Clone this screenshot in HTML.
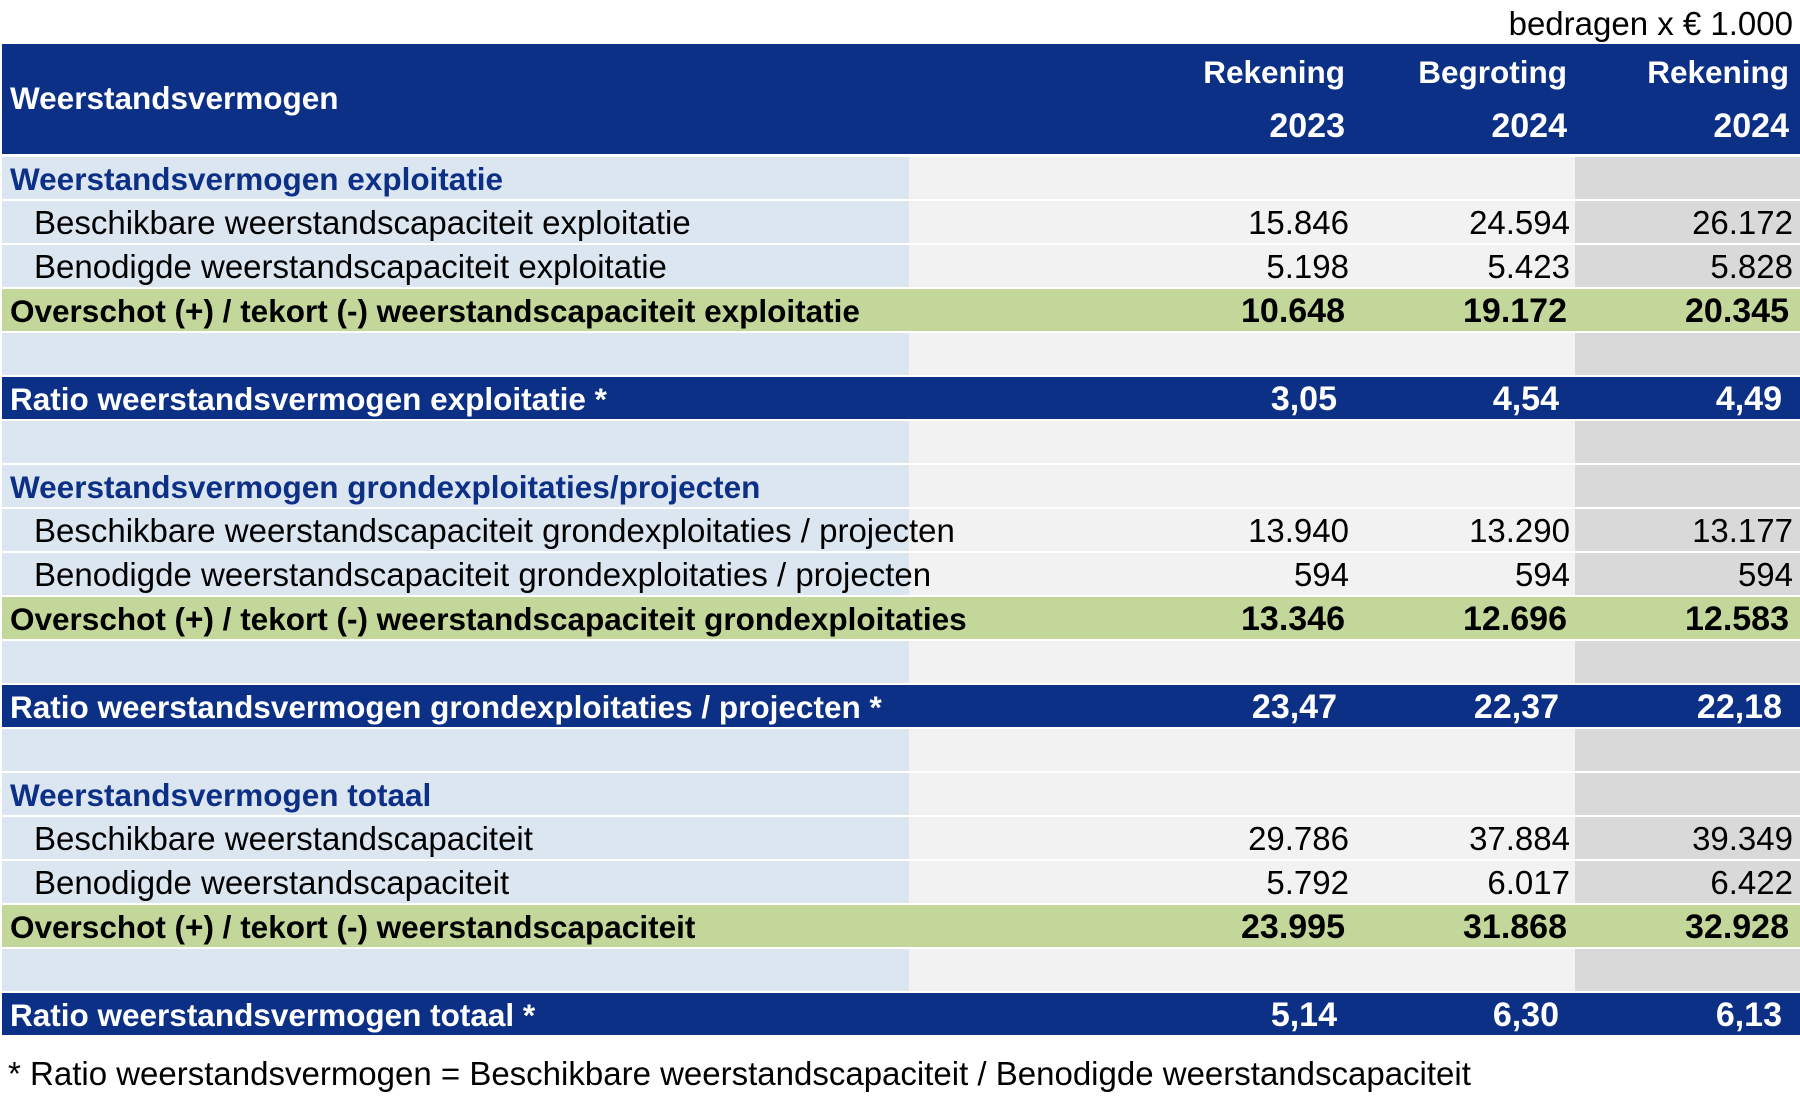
<!DOCTYPE html>
<html><head><meta charset="utf-8"><style>
body{margin:0;width:1800px;height:1110px;background:#fff;position:relative;overflow:hidden;font-family:"Liberation Sans",Arial,sans-serif;font-size:33px;color:#000}
.r{position:absolute;left:2px;width:1798px;height:42px;line-height:44px}
.r>div{position:absolute;top:0;height:42px}
.a{left:0;width:907px;background:#dce6f1}
.b{left:907px;width:666px;background:#f2f2f2}
.c{left:1573px;width:225px;background:#d9d9d9}
.t{position:absolute;white-space:nowrap}
.n{position:absolute;text-align:right;width:200px}
.blue{background:#0d3087;color:#fff;font-weight:bold;font-size:31.5px}
.green{background:#c4d79b;font-weight:bold;font-size:31.5px}
.blue .n,.green .n{font-size:34px}
.sec{color:#0d3087;font-weight:bold;font-size:31.5px}
</style></head><body>
<div class="t" style="right:7px;top:4px;line-height:40px">bedragen x € 1.000</div>
<div style="position:absolute;left:2px;top:44px;width:1798px;height:110px;background:#0d3087;color:#fff;font-weight:bold;font-size:31.5px">
<div class="t" style="left:8px;top:34px;line-height:40px">Weerstandsvermogen</div>
<div class="n" style="left:1143px;top:8px;line-height:40px">Rekening</div>
<div class="n" style="left:1365px;top:8px;line-height:40px">Begroting</div>
<div class="n" style="left:1587px;top:8px;line-height:40px">Rekening</div>
<div class="n" style="left:1143px;top:62px;line-height:40px;font-size:34px">2023</div>
<div class="n" style="left:1365px;top:62px;line-height:40px;font-size:34px">2024</div>
<div class="n" style="left:1587px;top:62px;line-height:40px;font-size:34px">2024</div>
</div>

<div class="r" style="top:157px"><div class="a"></div><div class="b"></div><div class="c"></div><span class="t sec" style="left:8px">Weerstandsvermogen exploitatie</span></div>
<div class="r" style="top:201px"><div class="a"></div><div class="b"></div><div class="c"></div><span class="t" style="left:32px">Beschikbare weerstandscapaciteit exploitatie</span><span class="n" style="left:1147px">15.846</span><span class="n" style="left:1368px">24.594</span><span class="n" style="left:1591px">26.172</span></div>
<div class="r" style="top:245px"><div class="a"></div><div class="b"></div><div class="c"></div><span class="t" style="left:32px">Benodigde weerstandscapaciteit exploitatie</span><span class="n" style="left:1147px">5.198</span><span class="n" style="left:1368px">5.423</span><span class="n" style="left:1591px">5.828</span></div>
<div class="r green" style="top:289px"><span class="t" style="left:8px">Overschot (+) / tekort (-) weerstandscapaciteit exploitatie</span><span class="n" style="left:1143px">10.648</span><span class="n" style="left:1365px">19.172</span><span class="n" style="left:1587px">20.345</span></div>
<div class="r" style="top:333px"><div class="a"></div><div class="b"></div><div class="c"></div></div>
<div class="r blue" style="top:377px"><span class="t" style="left:8px">Ratio weerstandsvermogen exploitatie *</span><span class="n" style="left:1135px">3,05</span><span class="n" style="left:1357px">4,54</span><span class="n" style="left:1580px">4,49</span></div>
<div class="r" style="top:421px"><div class="a"></div><div class="b"></div><div class="c"></div></div>
<div class="r" style="top:465px"><div class="a"></div><div class="b"></div><div class="c"></div><span class="t sec" style="left:8px">Weerstandsvermogen grondexploitaties/projecten</span></div>
<div class="r" style="top:509px"><div class="a"></div><div class="b"></div><div class="c"></div><span class="t" style="left:32px">Beschikbare weerstandscapaciteit grondexploitaties / projecten</span><span class="n" style="left:1147px">13.940</span><span class="n" style="left:1368px">13.290</span><span class="n" style="left:1591px">13.177</span></div>
<div class="r" style="top:553px"><div class="a"></div><div class="b"></div><div class="c"></div><span class="t" style="left:32px">Benodigde weerstandscapaciteit grondexploitaties / projecten</span><span class="n" style="left:1147px">594</span><span class="n" style="left:1368px">594</span><span class="n" style="left:1591px">594</span></div>
<div class="r green" style="top:597px"><span class="t" style="left:8px">Overschot (+) / tekort (-) weerstandscapaciteit grondexploitaties</span><span class="n" style="left:1143px">13.346</span><span class="n" style="left:1365px">12.696</span><span class="n" style="left:1587px">12.583</span></div>
<div class="r" style="top:641px"><div class="a"></div><div class="b"></div><div class="c"></div></div>
<div class="r blue" style="top:685px"><span class="t" style="left:8px">Ratio weerstandsvermogen grondexploitaties / projecten *</span><span class="n" style="left:1135px">23,47</span><span class="n" style="left:1357px">22,37</span><span class="n" style="left:1580px">22,18</span></div>
<div class="r" style="top:729px"><div class="a"></div><div class="b"></div><div class="c"></div></div>
<div class="r" style="top:773px"><div class="a"></div><div class="b"></div><div class="c"></div><span class="t sec" style="left:8px">Weerstandsvermogen totaal</span></div>
<div class="r" style="top:817px"><div class="a"></div><div class="b"></div><div class="c"></div><span class="t" style="left:32px">Beschikbare weerstandscapaciteit</span><span class="n" style="left:1147px">29.786</span><span class="n" style="left:1368px">37.884</span><span class="n" style="left:1591px">39.349</span></div>
<div class="r" style="top:861px"><div class="a"></div><div class="b"></div><div class="c"></div><span class="t" style="left:32px">Benodigde weerstandscapaciteit</span><span class="n" style="left:1147px">5.792</span><span class="n" style="left:1368px">6.017</span><span class="n" style="left:1591px">6.422</span></div>
<div class="r green" style="top:905px"><span class="t" style="left:8px">Overschot (+) / tekort (-) weerstandscapaciteit</span><span class="n" style="left:1143px">23.995</span><span class="n" style="left:1365px">31.868</span><span class="n" style="left:1587px">32.928</span></div>
<div class="r" style="top:949px"><div class="a"></div><div class="b"></div><div class="c"></div></div>
<div class="r blue" style="top:993px"><span class="t" style="left:8px">Ratio weerstandsvermogen totaal *</span><span class="n" style="left:1135px">5,14</span><span class="n" style="left:1357px">6,30</span><span class="n" style="left:1580px">6,13</span></div>

<div class="t" style="left:8px;top:1052px;line-height:44px">* Ratio weerstandsvermogen = Beschikbare weerstandscapaciteit / Benodigde weerstandscapaciteit</div>
</body></html>
